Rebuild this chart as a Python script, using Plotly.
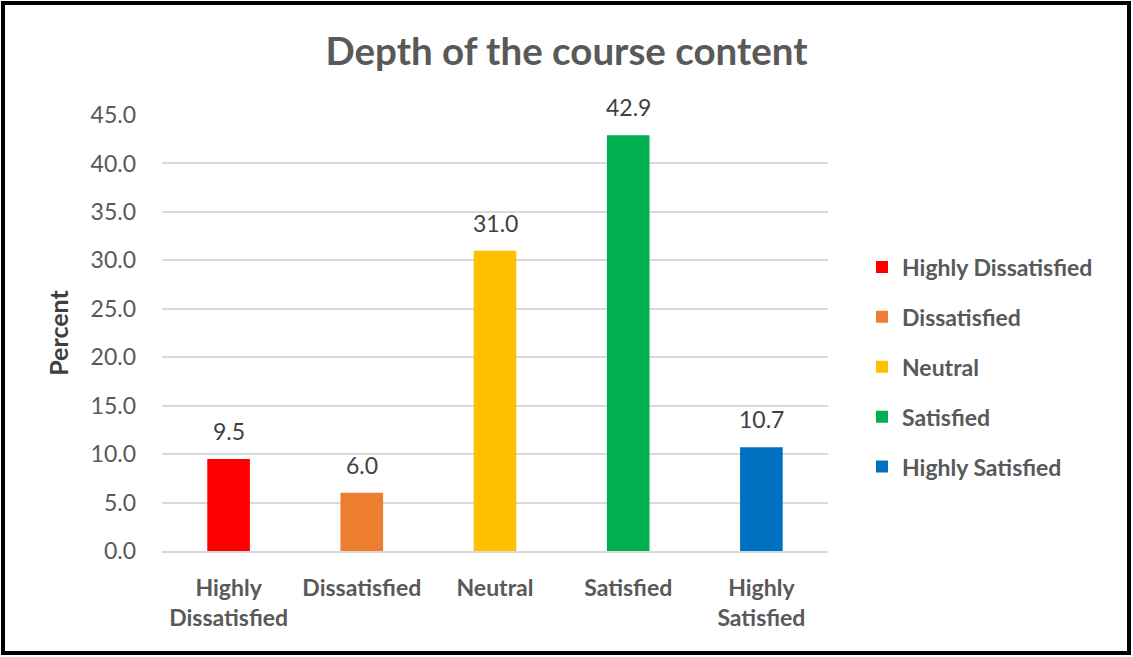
import plotly.graph_objects as go

categories = ["Highly Dissatisfied", "Dissatisfied", "Neutral", "Satisfied", "Highly Satisfied"]
tick_labels = ["Highly<br>Dissatisfied", "Dissatisfied", "Neutral", "Satisfied", "Highly<br>Satisfied"]
values = [9.5, 6.0, 31.0, 42.9, 10.7]
colors = ["#FF0000", "#ED7D31", "#FFC000", "#00B050", "#0070C0"]

FONT = "Lato, 'Open Sans', sans-serif"

fig = go.Figure()
for i, (cat, val, col) in enumerate(zip(categories, values, colors)):
    fig.add_trace(go.Bar(
        x=[tick_labels[i]], y=[val], name=f"<b>{cat}</b>",
        marker=dict(color=col, line=dict(width=0)),
        width=0.32,
        legendgroup=cat,
        hoverinfo="x+y",
    ))
    fig.add_annotation(x=tick_labels[i], y=val, text=f"{val:.1f}",
                       showarrow=False, yanchor="middle", yshift=28,
                       font=dict(size=23, color="#404040", family=FONT))

W, H = 1133, 657
L, R, T, B = 162, 305, 115, 106
pw, ph = W - L - R, H - T - B

fig.update_layout(
    width=W, height=H,
    margin=dict(l=L, r=R, t=T, b=B),
    paper_bgcolor="white", plot_bgcolor="white",
    barmode="overlay",
    font=dict(family=FONT, color="#595959"),
    title=dict(text="<b>Depth of the course content</b>", x=0.5, xref="container",
               y=1 - 52 / H, yanchor="middle",
               font=dict(size=38.5, color="#595959", family=FONT)),
    xaxis=dict(categoryorder="array", categoryarray=tick_labels,
               tickvals=tick_labels,
               ticktext=[f"<b>{t}</b>".replace("<br>", "</b><br><b>") for t in tick_labels],
               showgrid=False, showline=True, linecolor="#d9d9d9", linewidth=1.5,
               tickfont=dict(size=23, color="#595959", family=FONT),
               ticks="", ticklabelstandoff=16),
    yaxis=dict(range=[0, 45], dtick=5, tickformat=".1f",
               showgrid=True, gridcolor="#d9d9d9", gridwidth=1.5,
               zeroline=False, showline=False, ticks="",
               tickfont=dict(size=23, color="#595959", family=FONT),
               ticklabelstandoff=25,
               title=dict(text="<b>Percent</b>", standoff=14,
                          font=dict(size=25, color="#404040", family=FONT))),
    legend=dict(x=(862 - L) / pw, xanchor="left", y=(551 - 367) / ph, yanchor="middle",
                font=dict(size=23, color="#595959", family=FONT),
                tracegroupgap=17, itemwidth=30, bgcolor="rgba(0,0,0,0)"),
    showlegend=True,
)

fig.add_shape(type="rect", xref="paper", yref="paper",
              x0=(3 - L) / pw, x1=(1129 - L) / pw,
              y0=(551 - 653) / ph, y1=(551 - 3) / ph,
              line=dict(color="black", width=4), fillcolor="rgba(0,0,0,0)", layer="above")

fig.write_html("out.html", config={"displayModeBar": False},
               post_script="document.body.style.margin='0';document.body.style.overflow='hidden';")
